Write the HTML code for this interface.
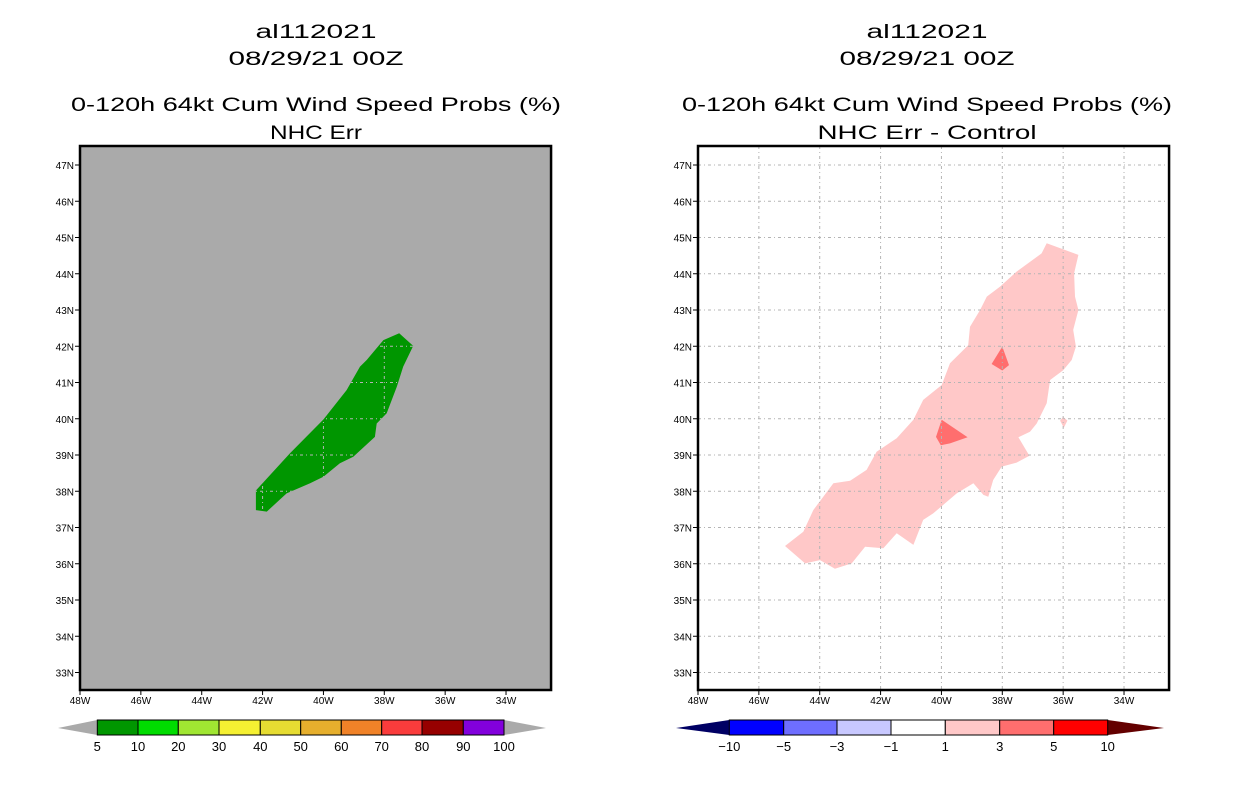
<!DOCTYPE html>
<html><head><meta charset="utf-8"><style>
html,body{margin:0;padding:0;background:#fff;}
svg{display:block;font-family:"Liberation Sans",sans-serif;}
</style></head><body>
<svg id="s" width="1236" height="800" viewBox="0 0 1236 800" xmlns="http://www.w3.org/2000/svg"></svg>
<script>
// ---- data ----
const latTicks=[47,46,45,44,43,42,41,40,39,38,37,36,35,34,33];
const lonTicks=[-48,-46,-44,-42,-40,-38,-36,-34];
const probLevels=["5","10","20","30","40","50","60","70","80","90","100"];
const probColors=["#009600","#00dc00","#a0e632","#f5f032","#e6dc32","#e6af2d","#f08228","#fa3c3c","#960000","#8200dc"];
const diffLevels=["-10","-5","-3","-1","1","3","5","10"];
const diffColors=["#0000ff","#6e6eff","#c8c8ff","#ffffff","#ffc8c8","#ff6e6e","#ff0000"];
const greenLon=[-37.51,-37.05,-37.38,-37.59,-37.92,-38.25,-38.31,-39.02,-39.46,-40.0,-40.44,-41.21,-41.86,-42.22,-42.22,-41.10,-40.0,-39.24,-38.80,-38.58,-38.03];
const greenLat=[42.36,42.01,41.44,40.88,40.15,39.87,39.50,38.95,38.77,38.40,38.22,37.94,37.44,37.48,38.02,39.05,39.98,40.79,41.44,41.62,42.17];
const pinkLon=[-36.54,-35.50,-35.64,-35.61,-35.50,-35.67,-35.58,-35.72,-36.0,-36.43,-36.54,-36.87,-37.09,-37.47,-37.11,-37.53,-38.02,-38.30,-38.46,-38.62,-38.95,-39.50,-40.27,-40.60,-40.92,-41.47,-41.91,-42.51,-42.95,-43.50,-43.99,-44.48,-45.14,-44.54,-44.21,-43.55,-43.0,-42.46,-42.13,-41.47,-40.92,-40.60,-39.99,-39.72,-39.12,-39.06,-38.73,-38.51,-38.08,-37.53,-36.71];
const pinkLat=[44.84,44.52,44.01,43.37,43.0,42.45,41.99,41.62,41.34,41.07,40.43,39.87,39.64,39.49,38.98,38.79,38.68,38.31,37.85,37.90,38.22,37.94,37.39,37.21,36.52,36.84,36.43,36.47,36.01,35.86,36.10,36.01,36.49,36.88,37.48,38.22,38.29,38.59,39.09,39.46,39.97,40.52,40.93,41.53,42.03,42.54,43.0,43.37,43.64,44.06,44.56];
const red1Lon=[-38.0,-37.78,-38.0,-38.35];
const red1Lat=[41.99,41.48,41.33,41.51];
const red2Lon=[-39.99,-39.14,-39.72,-40.02,-40.18];
const red2Lat=[39.97,39.49,39.32,39.27,39.50];
const blobLon=[-36.0,-35.86,-35.98,-36.1];
const blobLat=[40.05,39.95,39.75,39.95];

// ---- drawing ----
const NS="http://www.w3.org/2000/svg";
const svg=document.getElementById('s');
function el(tag,attrs,parent){const e=document.createElementNS(NS,tag);for(const k in attrs)e.setAttribute(k,attrs[k]);(parent||svg).appendChild(e);return e;}
const LON0=-48,LON1=-32.52,LAT0=32.5,LAT1=47.52,PX=30.43,PY=36.25;
function panel(ox){return{x:lon=>ox+(lon-LON0)*PX,y:lat=>165+(47-lat)*PY,left:ox,right:ox+(LON1-LON0)*PX,top:146,bottom:690};}
function pts(p,lons,lats){return lons.map((l,i)=>p.x(l).toFixed(1)+","+p.y(lats[i]).toFixed(1)).join(" ");}
function text(str,x,y,size,anchor,len,name){const t=el('text',{x:x,y:y,'font-size':size,'text-anchor':anchor||'middle',fill:'#000'});if(len){t.setAttribute('textLength',len);t.setAttribute('lengthAdjust','spacingAndGlyphs');}t.textContent=str;


return t;}
function gridLines(p,g){
  lonTicks.forEach(l=>{if(l>-48){const ln=el('line',{x1:p.x(l),x2:p.x(l),y1:p.top,y2:p.bottom,stroke:'#b4b4b4','stroke-width':1,'stroke-dasharray':'3,3,1,3'},g);
  
  }});
  latTicks.forEach(l=>{const ln=el('line',{x1:p.left,x2:p.right,y1:p.y(l),y2:p.y(l),stroke:'#b4b4b4','stroke-width':1,'stroke-dasharray':'3,3,1,3'},g);
  
  });
}
function axes(p){
  latTicks.forEach(l=>{const y=p.y(l);
    el('line',{x1:p.left-5,x2:p.left,y1:y,y2:y,stroke:'#000','stroke-width':1});
    text(l+"N",p.left-6,y+4,10,'end',null,'y-tick-label');});
  lonTicks.forEach(l=>{const x=p.x(l);
    el('line',{x1:x,x2:x,y1:p.bottom,y2:p.bottom+5,stroke:'#000','stroke-width':1});
    text((-l)+"W",x,p.bottom+14,10,'middle',null,'x-tick-label');});
  const f=el('rect',{x:p.left,y:p.top,width:p.right-p.left,height:p.bottom-p.top,fill:'none',stroke:'#000','stroke-width':2.5});
  
  
}
function titles(cx,sub,subLen){
  text("al112021",cx,38,19,'middle',121,'storm-id');
  text("08/29/21 00Z",cx,65,19,'middle',175,'init-time');
  text("0-120h 64kt Cum Wind Speed Probs (%)",cx,111,19,'middle',490,'chart-title');
  text(sub,cx,139,19,'middle',subLen,'chart-subtitle');
}
// Left panel
const L=panel(80);
titles(316,"NHC Err",92);
const bgL=el('rect',{x:L.left,y:L.top,width:L.right-L.left,height:L.bottom-L.top,fill:'#aaaaaa'});


const cp=el('clipPath',{id:'gclip'});el('polygon',{points:pts(L,greenLon,greenLat)},cp);
const gp=el('polygon',{points:pts(L,greenLon,greenLat),fill:'#009600'});


const gg=el('g',{'clip-path':'url(#gclip)'});gridLines(L,gg);
axes(L);
// left colorbar
(function(){
  const xs=[97.3,138,178.3,219,260.3,300.7,341.3,381.7,422,463.3,504];
  const y0=720,y1=735;
  const lt=el('polygon',{points:`58,728 ${xs[0]},${y0} ${xs[0]},${y1}`,fill:'#aaaaaa'});
  
  const rt=el('polygon',{points:`546,728 ${xs[10]},${y0} ${xs[10]},${y1}`,fill:'#aaaaaa'});
  
  probColors.forEach((c,i)=>{const r=el('rect',{x:xs[i],y:y0,width:xs[i+1]-xs[i],height:y1-y0,fill:c,stroke:'#000','stroke-width':1});
    
    });
  probLevels.forEach((s,i)=>text(s,xs[i],751,13,'middle',null,'colorbar-label'));
})();
// Right panel
const R=panel(698);
titles(927,"NHC Err - Control",219);
const bgR=el('rect',{x:R.left,y:R.top,width:R.right-R.left,height:R.bottom-R.top,fill:'#fff'});


[[pinkLon,pinkLat,'#ffc8c8','diff-contour-1-3'],[blobLon,blobLat,'#ffc8c8','diff-contour-small'],[red1Lon,red1Lat,'#ff6e6e','diff-contour-3-5-north'],[red2Lon,red2Lat,'#ff6e6e','diff-contour-3-5-south']].forEach(d=>{
  const pg=el('polygon',{points:pts(R,d[0],d[1]),fill:d[2]});
  
  
});
gridLines(R,el('g',{}));
axes(R);
(function(){
  const xs=[729.3,783.7,837,891,945.3,999.7,1053.7,1107.7];
  const y0=720,y1=735;
  const lt=el('polygon',{points:`676,728 ${xs[0]},${y0} ${xs[0]},${y1}`,fill:'#000064'});
  
  const rt=el('polygon',{points:`1164,728 ${xs[7]},${y0} ${xs[7]},${y1}`,fill:'#640000'});
  
  diffColors.forEach((c,i)=>{const r=el('rect',{x:xs[i],y:y0,width:xs[i+1]-xs[i],height:y1-y0,fill:c,stroke:'#000','stroke-width':1});
    
    });
  diffLevels.forEach((s,i)=>text(s.replace('-','\u2212'),xs[i],751,13,'middle',null,'colorbar-label'));
})();
</script>
</body></html>
